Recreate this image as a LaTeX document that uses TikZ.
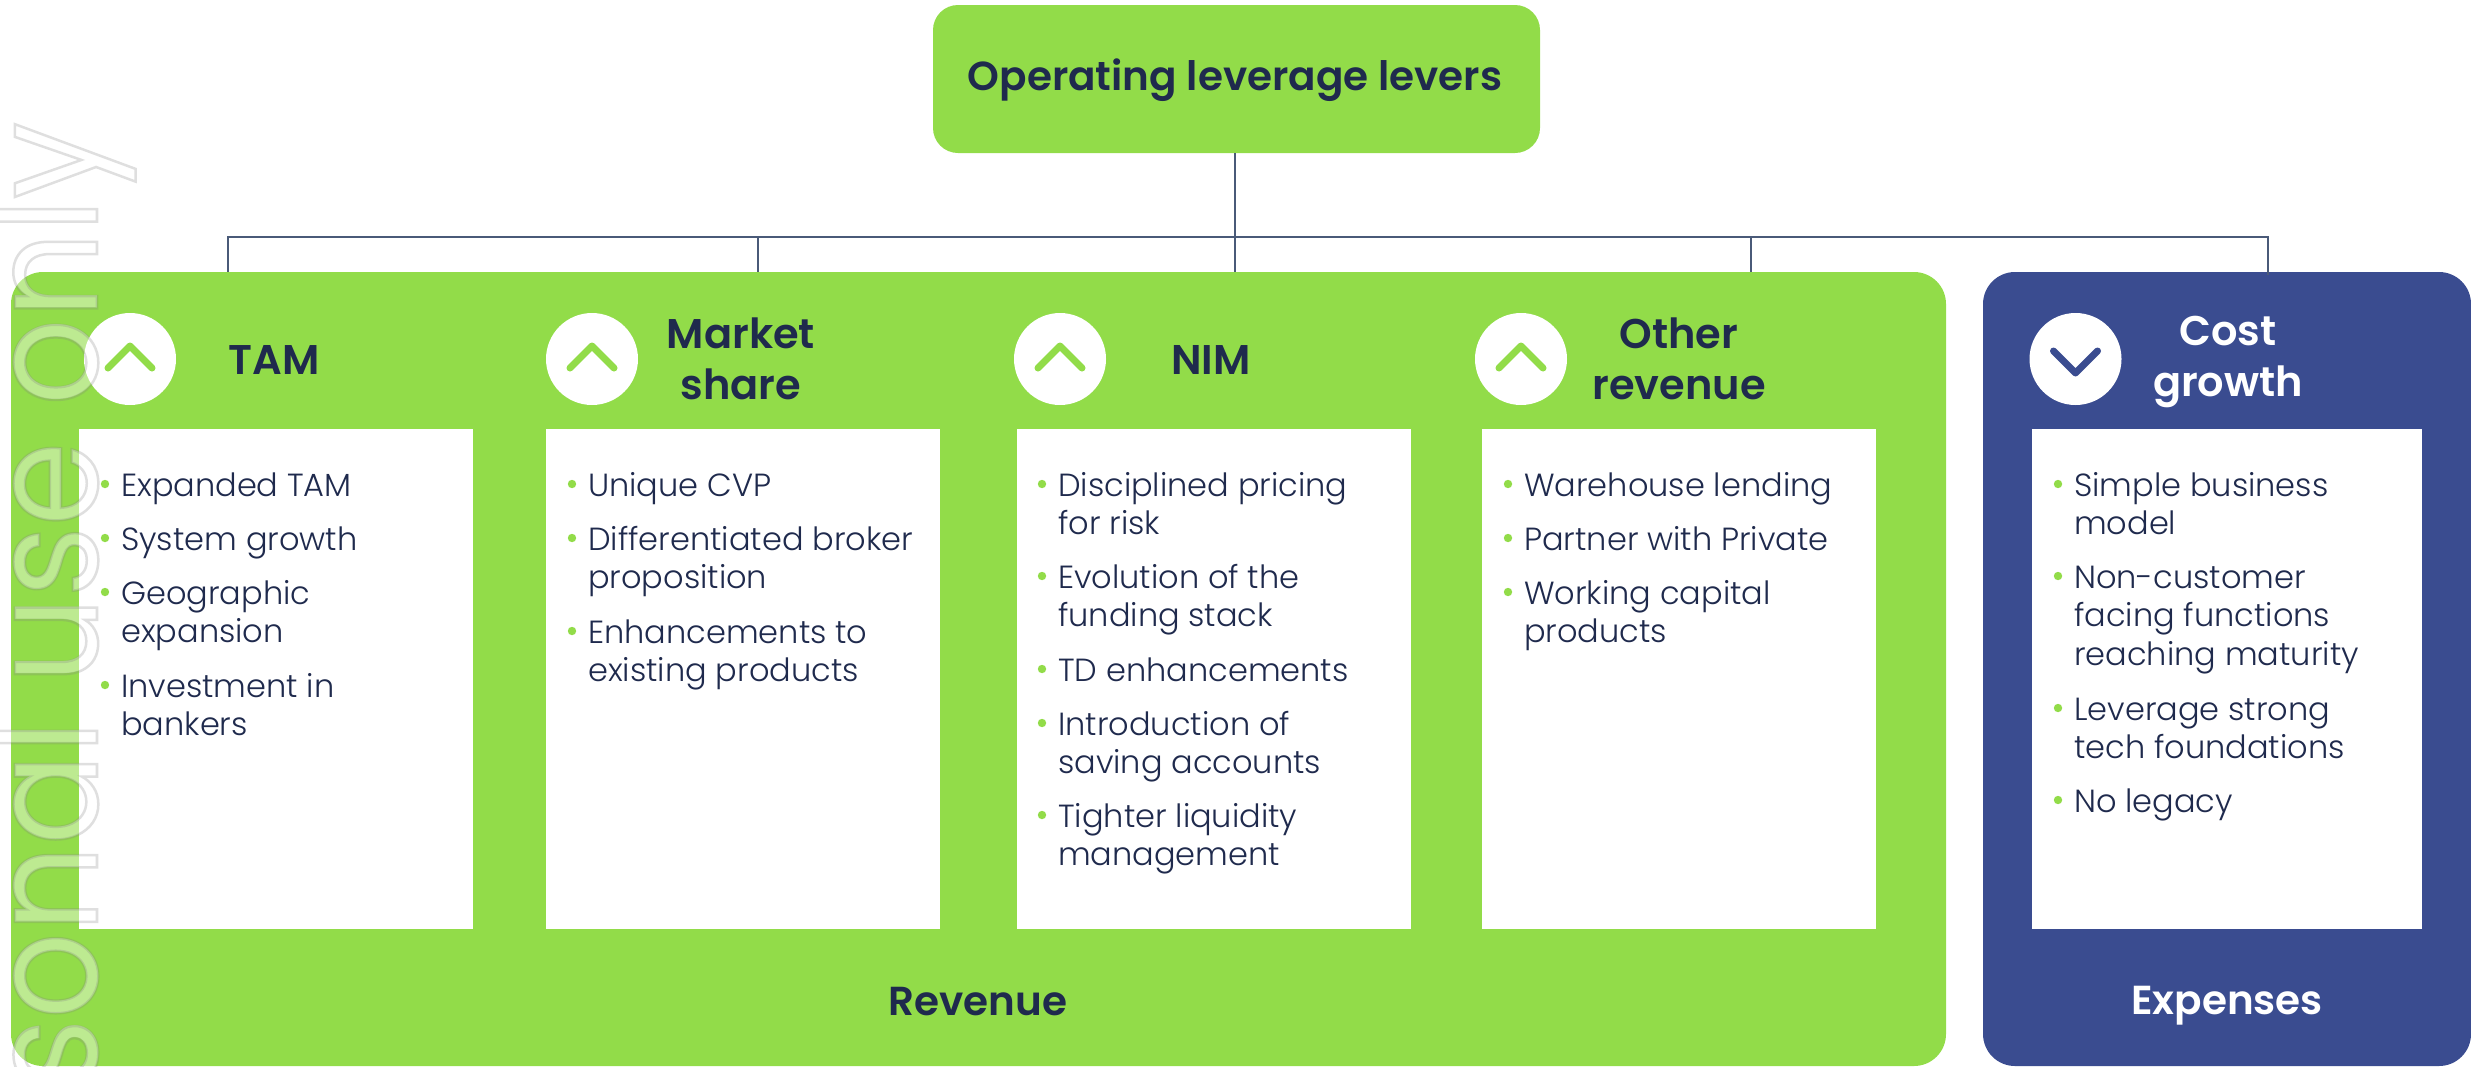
\documentclass[tikz,border=0pt]{standalone}
\usepackage{fontspec}
\setmainfont{Poppins}
\newfontfamily\bodyf{Poppins Light}
\newfontfamily\headf{Poppins SemiBold}
\newfontfamily\markf[FakeStretch=0.905]{Poppins}
\usetikzlibrary{calc}
\definecolor{lgreen}{HTML}{92DC49}
\definecolor{lblue}{HTML}{3A4C90}
\definecolor{navy}{HTML}{1F2A4D}
\definecolor{wire}{HTML}{4A5A78}
\newcommand\lns[1]{\vtop{\baselineskip=38.6pt \lineskiplimit=-100pt \halign{##\hfil\cr #1\crcr}}}
\tikzset{
  panel/.style={rounded corners=32pt,draw=none,inner sep=0pt,minimum height=794pt},
  card/.style={fill=white,draw=none,inner sep=0pt,minimum height=500pt},
  disc/.style={circle,fill=white,draw=none,inner sep=0pt,minimum size=92pt},
  head/.style={inner sep=0pt,align=center,text=navy,font=\headf\fontsize{41.5}{50.5}\selectfont},
  bigt/.style={inner sep=0pt,text=navy,font=\headf\fontsize{40.5}{46}\selectfont},
  itm/.style={inner sep=0pt,anchor=base west,text=navy,font=\bodyf\fontsize{32}{38.6}\selectfont},
  wirel/.style={draw=wire,line width=1.5pt},
  chev/.style={line width=7pt,line cap=round,line join=round},
  wmark/.style={rotate=90,anchor=base east,inner sep=0pt,font=\markf\fontsize{150}{150}\selectfont},
}
\newcommand\bul[4]{%
  \fill[lgreen] ($(#2,#3)+(-16,-12)$) circle (4.2);
  \node[itm] (#1) at (#2,#3) {\lns{#4}};}
\begin{document}
\begin{tikzpicture}[x=1pt,y=-1pt]
\useasboundingbox (0,0) rectangle (2471,1066);
\node[panel,minimum height=148pt,minimum width=607pt,fill=lgreen,rounded corners=25pt] (top) at (1236.5,79) {};
\node[bigt] (toplabel) at (1235,80) {Operating leverage levers};
% connectors
\coordinate (bus) at (1235,237);
\coordinate (bl) at (228,237);
\coordinate (br) at (2268,237);
\coordinate (b2) at (758,237);
\coordinate (b4) at (1751,237);
\coordinate (d1) at (228,275);
\coordinate (d2) at (758,275);
\coordinate (d3) at (1235,275);
\coordinate (d4) at (1751,275);
\coordinate (d5) at (2268,275);
\draw[wirel] (top.south -| bus) -- (bus);
\draw[wirel] (d1) -- (bl) -- (br) -- (d5);
\draw[wirel] (b2) -- (d2);
\draw[wirel] (bus) -- (d3);
\draw[wirel] (b4) -- (d4);
% panels
\node[panel,fill=lgreen,minimum width=1935pt] (rev) at (978.5,669) {};
\node[panel,fill=lblue,minimum width=488pt] (exp) at (2227,669) {};
\draw[wirel] (2268,272) -- (d5);
% cards
\node[card,minimum width=394pt] (c1) at (276,679) {};
\node[card,minimum width=394pt] (c2) at (743,679) {};
\node[card,minimum width=394pt] (c3) at (1214,679) {};
\node[card,minimum width=394pt] (c4) at (1678.5,679) {};
\node[card,minimum width=390pt] (c5) at (2227,679) {};
% discs
\node[disc] (o1) at (130,359) {};
\node[disc] (o2) at (592,359) {};
\node[disc] (o3) at (1060,359) {};
\node[disc] (o4) at (1521,359) {};
\node[disc] (o5) at (2075.5,359) {};
\foreach \c in {o1,o2,o3,o4}{
  \draw[chev,lgreen] ($(\c)+(-22,9)$) -- ($(\c)+(0,-13)$) -- ($(\c)+(22,9)$);
}
\draw[chev,lblue] ($(o5)+(-22,-8)$) -- ($(o5)+(0,14)$) -- ($(o5)+(22,-8)$);
% headings
\node[head] (t1) at (274,360) {TAM};
\node[head] (t2) at (741,359) {Market\\share};
\node[head] (t3) at (1211,360) {NIM};
\node[head] (t4) at (1679,359) {Other\\revenue};
\node[head,text=white] (t5) at (2228,362) {Cost\\growth};
\node[bigt] (rl) at (978,1002) {Revenue};
\node[bigt,text=white] (el) at (2227,1006) {Expenses};
% column 1
\bul{a1}{121}{496}{Expanded TAM}
\bul{a2}{121}{550}{System growth}
\bul{a3}{121}{604}{Geographic\cr expansion}
\bul{a4}{121}{697}{Investment in\cr bankers}
% column 2
\bul{b1x}{588}{496}{Unique CVP}
\bul{b2x}{588}{550}{Differentiated broker\cr proposition}
\bul{b3x}{588}{643}{Enhancements to\cr existing products}
% column 3
\bul{e1}{1058}{496}{Disciplined pricing\cr for risk}
\bul{e2}{1058}{588}{Evolution of the\cr funding stack}
\bul{e3}{1058}{681}{TD enhancements}
\bul{e4}{1058}{735}{Introduction of\cr saving accounts}
\bul{e5}{1058}{827}{Tighter liquidity\cr management}
% column 4
\bul{f1}{1524}{496}{Warehouse lending}
\bul{f2}{1524}{550}{Partner with Private}
\bul{f3}{1524}{604}{Working capital\cr products}
% column 5
\bul{g1}{2074}{496}{Simple business\cr model}
\bul{g2}{2074}{588}{Non-customer\cr facing functions\cr reaching maturity}
\bul{g3}{2074}{720}{Leverage strong\cr tech foundations}
\bul{g4}{2074}{812}{No legacy}
% watermark
\node[wmark,text=white,opacity=0.4] (wm) at (97,122) {sonal use only};
\node[wmark,text=gray,opacity=0.25] (wm2) at (97,122)
  {\special{pdf:code 1 Tr 2.5 w 0.5 G}sonal use only\special{pdf:code 0 Tr}};
\end{tikzpicture}
\end{document}
